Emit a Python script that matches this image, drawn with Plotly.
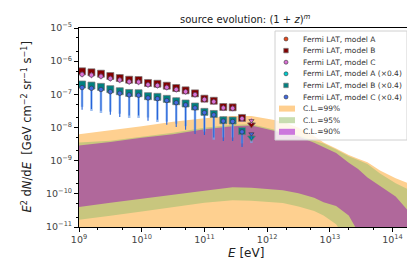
import plotly.graph_objects as go

# ---------------- data ----------------
E_points = [1.12e9, 1.58e9, 2.24e9, 3.16e9, 4.47e9, 6.31e9, 8.91e9, 1.26e10, 1.78e10,
            2.51e10, 3.55e10, 5.01e10, 7.08e10, 1.00e11, 1.41e11, 2.00e11, 2.82e11,
            3.98e11, 5.62e11]

model_A = [5.1e-7, 4.7e-7, 4.3e-7, 3.6e-7, 3.2e-7, 2.8e-7, 2.75e-7, 2.25e-7, 2.1e-7, 1.85e-7,
           1.6e-7, 1.35e-7, 1.1e-7, 7.6e-8, 6.6e-8, 4.3e-8, 4.1e-8, 2.0e-8, 1.25e-8]
model_B = [4.95e-7, 4.61e-7, 4.19e-7, 3.57e-7, 3.11e-7, 2.76e-7, 2.70e-7, 2.20e-7, 2.09e-7,
           1.82e-7, 1.55e-7, 1.32e-7, 1.07e-7, 7.4e-8, 6.4e-8, 4.15e-8, 4.06e-8, 1.94e-8, 1.22e-8]
model_C = [4.0e-7, 3.8e-7, 3.5e-7, 3.0e-7, 2.7e-7, 2.4e-7, 2.35e-7, 1.95e-7, 1.85e-7, 1.62e-7,
           1.4e-7, 1.2e-7, 9.8e-8, 7.0e-8, 6.0e-8, 3.9e-8, 3.8e-8, 1.85e-8, 1.6e-8]

model_A04 = [2.04e-7, 1.88e-7, 1.72e-7, 1.44e-7, 1.28e-7, 1.12e-7, 1.1e-7, 9.0e-8, 8.4e-8, 7.4e-8,
             6.4e-8, 5.4e-8, 4.4e-8, 3.04e-8, 2.64e-8, 1.72e-8, 1.64e-8, 8.0e-9, 5.0e-9]
model_B04 = [1.98e-7, 1.84e-7, 1.68e-7, 1.43e-7, 1.24e-7, 1.10e-7, 1.08e-7, 8.8e-8, 8.4e-8, 7.3e-8,
             6.2e-8, 5.3e-8, 4.3e-8, 2.96e-8, 2.56e-8, 1.66e-8, 1.62e-8, 7.8e-9, 4.9e-9]
model_C04 = [1.6e-7, 1.52e-7, 1.4e-7, 1.2e-7, 1.08e-7, 9.6e-8, 9.4e-8, 7.8e-8, 7.4e-8, 6.5e-8,
             5.6e-8, 4.8e-8, 3.9e-8, 2.8e-8, 2.4e-8, 1.56e-8, 1.52e-8, 7.4e-9, 6.4e-9]

# lower ends of the (downward) error bars of the x0.4 series
B04_lower = [4.2e-8, 3.15e-8, 2.73e-8, 3.0e-8, 2.6e-8, 1.94e-8, 1.94e-8, 2.0e-8, 1.47e-8, 1.5e-8,
             1.3e-8, 1.1e-8, 8.0e-9, 7.5e-9, 4.28e-9, 5.0e-9, 5.0e-9, 3.3e-9, 3.4e-9]
C04_lower = [3.44e-8, 3.6e-8, 3.2e-8, 2.43e-8, 2.07e-8, 2.3e-8, 2.3e-8, 1.60e-8, 1.7e-8, 1.22e-8,
             1.035e-8, 8.6e-9, 6.37e-9, 5.94e-9, 5.0e-9, 3.92e-9, 3.92e-9, 2.58e-9, 4.5e-9]

# confidence bands (log10 of E^2 dN/dE) on an energy grid
E_band = [1.0e9, 3.16e9, 1.0e10, 3.16e10, 1.0e11, 2.82e11, 5.62e11, 1.78e12, 3.16e12, 5.62e12,
          7.94e12, 1.26e13, 2.0e13, 2.82e13, 3.98e13, 6.31e13, 1.12e14, 2.04e14]
cl99_upper = [-8.20, -8.09, -7.96, -7.83, -7.72, -7.65, -7.65, -7.82, -8.01, -8.26, -8.45, -8.63,
              -8.83, -8.94, -9.05, -9.30, -9.53, -9.72]
cl99_lower = [-12.0] * 18
cl95_upper = [-8.45, -8.40, -8.28, -8.16, -8.01, -7.92, -7.90, -8.13, -8.23, -8.40, -8.48, -8.66,
              -8.87, -8.98, -9.10, -9.39, -9.68, -9.92]
cl95_lower = [-10.78, -10.66, -10.53, -10.41, -10.27, -10.19, -10.21, -10.28, -10.38, -10.52,
              -10.65, -10.92, -11.5, -12.0, -12.0, -12.0, -12.0, -12.0]
cl90_upper = [-8.54, -8.44, -8.31, -8.20, -8.05, -7.96, -7.94, -8.17, -8.27, -8.46, -8.60, -8.77,
              -9.06, -9.25, -9.51, -9.76, -10.08, -10.64]
cl90_lower = [-10.40, -10.27, -10.15, -10.04, -9.91, -9.80, -9.82, -9.89, -9.98, -10.12, -10.25,
              -10.37, -10.65, -11.15, -11.5, -12.0, -12.0, -12.0]

x_ticks = [1e9, 1e10, 1e11, 1e12, 1e13, 1e14]
x_ticktext = ["10<sup>9</sup>", "10<sup>10</sup>", "10<sup>11</sup>", "10<sup>12</sup>",
              "10<sup>13</sup>", "10<sup>14</sup>"]
y_ticks = [1e-11, 1e-10, 1e-9, 1e-8, 1e-7, 1e-6, 1e-5]
y_ticktext = ["10<sup>−11</sup>", "10<sup>−10</sup>", "10<sup>−9</sup>", "10<sup>−8</sup>",
              "10<sup>−7</sup>", "10<sup>−6</sup>", "10<sup>−5</sup>"]

series_names = ["Fermi LAT, model A", "Fermi LAT, model B", "Fermi LAT, model C",
                "Fermi LAT, model A (×0.4)", "Fermi LAT, model B (×0.4)", "Fermi LAT, model C (×0.4)"]
band_names = ["C.L.=99%", "C.L.=95%", "C.L.=90%"]

# ---------------- styles ----------------
PLOT_L, PLOT_T, PLOT_W, PLOT_H = 71, 20, 333, 199
series_style = [
    dict(symbol="circle", size=5, color="#e8481c", line=dict(color="#333", width=0.6)),
    dict(symbol="square", size=7, color="#800000", line=dict(color="#777", width=0.7)),
    dict(symbol="circle", size=4.5, color="#da70d6", line=dict(color="#333", width=0.6)),
    dict(symbol="circle", size=5, color="#00ced1", line=dict(color="#333", width=0.6)),
    dict(symbol="square", size=7, color="#008080", line=dict(color="#777", width=0.7)),
    dict(symbol="circle", size=4.5, color="#4169e1", line=dict(color="#333", width=0.6)),
]
band_plot_colors = ["#fed090", "#c8c67e", "#b0689b"]
band_legend_colors = ["#ffcf8f", "#c8ddb0", "#cc77dd"]

fig = go.Figure()

def band(upper, lower, color):
    xs = E_band + E_band[::-1]
    ys = [10 ** v for v in upper] + [10 ** v for v in lower[::-1]]
    fig.add_trace(go.Scatter(x=xs, y=ys, mode="lines", fill="toself", fillcolor=color,
                             line=dict(width=0, color=color), showlegend=False, hoverinfo="skip"))

band(cl99_upper, cl99_lower, band_plot_colors[0])
band(cl95_upper, cl95_lower, band_plot_colors[1])
band(cl90_upper, cl90_lower, band_plot_colors[2])

n = len(E_points)

def with_limit(style):
    s = dict(style)
    s["symbol"] = [style["symbol"]] * (n - 1) + ["triangle-down"]
    return s

fig.add_trace(go.Scatter(x=E_points, y=model_A, mode="markers", showlegend=False,
                         marker=with_limit(series_style[0]),
                         error_y=dict(type="percent", value=20, color="#b22222", thickness=1, width=0)))
fig.add_trace(go.Scatter(x=E_points, y=model_B, mode="markers", showlegend=False,
                         marker=with_limit(series_style[1]),
                         error_y=dict(type="percent", value=20, color="#800000", thickness=1, width=0)))
fig.add_trace(go.Scatter(x=E_points, y=model_C, mode="markers", showlegend=False,
                         marker=with_limit(series_style[2]),
                         error_y=dict(type="percent", value=20, color="#da70d6", thickness=1, width=0)))
fig.add_trace(go.Scatter(x=E_points, y=model_A04, mode="markers", showlegend=False,
                         marker=with_limit(series_style[3])))
fig.add_trace(go.Scatter(x=E_points, y=model_B04, mode="markers", showlegend=False,
                         marker=with_limit(series_style[4]),
                         error_y=dict(type="data", symmetric=False, array=[0] * n,
                                      arrayminus=[v - lo for v, lo in zip(model_B04, B04_lower)],
                                      color="rgba(120,165,235,0.75)", thickness=2.5, width=0)))
fig.add_trace(go.Scatter(x=E_points, y=model_C04, mode="markers", showlegend=False,
                         marker=with_limit(series_style[5]),
                         error_y=dict(type="data", symmetric=False, array=[0] * n,
                                      arrayminus=[v - lo for v, lo in zip(model_C04, C04_lower)],
                                      color="#2563d9", thickness=1.1, width=0)))

# ---------------- compact legend drawn on an overlay axis (pixel coordinates) ----------------
def px_x(px):
    return (px - PLOT_L) / PLOT_W

def px_y(py):
    return 1 - (py - PLOT_T) / PLOT_H

box_l, box_r, box_t, box_b = 267, 399, 23, 132
fig.add_trace(go.Scatter(
    x=[px_x(box_l), px_x(box_r), px_x(box_r), px_x(box_l), px_x(box_l)],
    y=[px_y(box_t), px_y(box_t), px_y(box_b), px_y(box_b), px_y(box_t)],
    mode="lines", fill="toself", fillcolor="rgba(255,255,255,0.82)",
    line=dict(color="#d0d0d0", width=1), xaxis="x2", yaxis="y2",
    showlegend=False, hoverinfo="skip"))

row_y = [31, 42.6, 54.2, 65.8, 77.4, 89.0, 100.6, 112.2, 123.8]
mark_x, text_x = 278, 293
annotations = []
for i, name in enumerate(series_names):
    st = dict(series_style[i])
    st["size"] = 4.5 if st["symbol"] == "square" else 4
    fig.add_trace(go.Scatter(x=[px_x(mark_x)], y=[px_y(row_y[i])], mode="markers",
                             marker=st, xaxis="x2", yaxis="y2", showlegend=False, hoverinfo="skip"))
    annotations.append(dict(text=name, xref="paper", yref="paper", x=px_x(text_x), y=px_y(row_y[i]),
                            xanchor="left", yanchor="middle", showarrow=False,
                            font=dict(size=7.5, color="#333")))
for j, name in enumerate(band_names):
    yc = row_y[6 + j]
    x0, x1, y0, y1 = px_x(271), px_x(287), px_y(yc - 3), px_y(yc + 3)
    fig.add_trace(go.Scatter(x=[x0, x1, x1, x0, x0], y=[y0, y0, y1, y1, y0], mode="lines",
                             fill="toself", fillcolor=band_legend_colors[j],
                             line=dict(width=0, color=band_legend_colors[j]),
                             xaxis="x2", yaxis="y2", showlegend=False, hoverinfo="skip"))
    annotations.append(dict(text=name, xref="paper", yref="paper", x=px_x(text_x), y=px_y(yc),
                            xanchor="left", yanchor="middle", showarrow=False,
                            font=dict(size=7.5, color="#333")))

annotations += [
    dict(text="source evolution: (1 + <i>z</i>)<sup><i>m</i></sup>", xref="paper", yref="paper",
         x=0.5, y=1, yanchor="bottom", yshift=1, showarrow=False,
         font=dict(size=10, color="#222")),
    dict(text="<i>E</i> [eV]", xref="paper", yref="paper", x=0.5, y=0, yanchor="middle",
         yshift=-26, showarrow=False, font=dict(size=12, color="#222")),
    dict(text="<i>E</i><sup>2</sup> d<i>N</i>/d<i>E</i>  [GeV cm<sup>−2</sup> sr<sup>−1</sup> s<sup>−1</sup>]",
         xref="paper", yref="paper", x=0, y=0.5, xanchor="center", yanchor="middle",
         xshift=-52, textangle=-90, showarrow=False, font=dict(size=11.5, color="#222")),
]

axis_common = dict(type="log", showline=True, linecolor="black", linewidth=1, mirror=True,
                   ticks="outside", ticklen=4, tickcolor="black", showgrid=False, zeroline=False,
                   tickfont=dict(family="DejaVu Sans", size=9.5, color="#444"),
                   minor=dict(ticks="outside", ticklen=2, tickcolor="black", showgrid=False))

fig.update_layout(
    width=415, height=259,
    margin=dict(l=PLOT_L, r=415 - PLOT_L - PLOT_W, t=PLOT_T, b=259 - PLOT_T - PLOT_H),
    paper_bgcolor="white", plot_bgcolor="white",
    font=dict(family="DejaVu Sans", color="#222"),
    showlegend=False,
    xaxis=dict(range=[9, 14.31], tickvals=x_ticks, ticktext=x_ticktext, **axis_common),
    yaxis=dict(range=[-11, -5], tickvals=y_ticks, ticktext=y_ticktext, **axis_common),
    xaxis2=dict(overlaying="x", range=[0, 1], visible=False, fixedrange=True),
    yaxis2=dict(overlaying="y", range=[0, 1], visible=False, fixedrange=True),
    annotations=annotations,
)

fig.write_html("out.html")
